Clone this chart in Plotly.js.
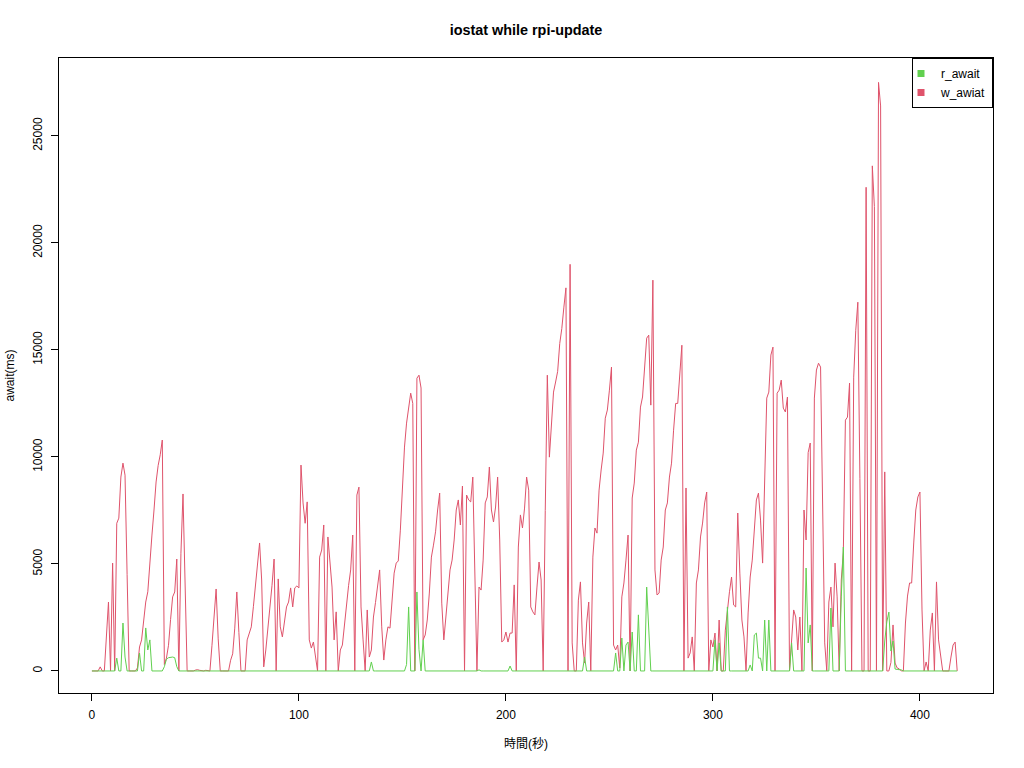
<!DOCTYPE html>
<html><head><meta charset="utf-8">
<script src="https://cdn.plot.ly/plotly-3.0.1.min.js"></script>
<style>body{margin:0;background:#fff}#chart{width:1024px;height:768px}</style>
</head><body><div id="chart"></div>
<script>
const seriesNames = ['r_await', 'w_awiat'];

const rAwait = [
0,0,0,0,0,0,0,0,0,0,0,0,600,0,0,2240,650,0,0,0,
0,0,0,840,0,0,2010,980,1450,0,0,0,0,0,0,200,550,620,650,650,
620,200,0,0,0,0,0,0,0,0,0,0,0,0,0,0,0,0,0,0,
0,0,0,0,0,0,0,0,0,0,0,0,0,0,0,0,0,0,0,0,
0,0,0,0,0,0,0,0,0,0,0,0,0,0,0,0,0,0,0,0,
0,0,0,0,0,0,0,0,0,0,0,0,0,0,0,0,0,0,0,0,
0,0,0,0,0,0,0,0,0,0,0,0,0,0,0,420,0,0,0,0,
0,0,0,0,0,0,0,0,0,0,0,0,300,2990,0,0,0,3690,1000,0,
1450,0,0,0,0,0,0,0,0,0,0,0,0,0,0,0,0,0,0,0,
0,0,0,0,0,0,0,50,0,0,0,0,0,0,0,0,0,0,0,0,
0,0,230,0,0,0,0,0,0,0,0,0,0,0,0,0,0,0,0,0,
0,0,0,0,0,0,0,0,0,0,0,0,0,0,0,0,0,0,650,0,
0,0,0,0,0,0,0,0,0,0,0,0,0,840,0,0,1540,0,1210,1350,
0,1820,0,0,2620,0,0,0,3920,1680,0,0,0,0,0,0,0,0,0,0,
0,0,0,0,0,0,0,0,0,0,0,0,0,0,0,0,0,0,0,0,
0,1450,0,1310,0,0,0,2990,0,0,0,0,0,0,0,0,0,0,280,0,
1680,1770,600,600,0,2380,0,2380,0,0,0,0,0,0,0,0,0,0,1310,0,
0,0,0,0,0,4810,1310,2150,0,0,0,0,0,0,0,0,0,2940,0,0,
0,0,3460,5790,0,0,0,0,0,0,0,0,0,0,0,0,0,0,0,0,
0,0,0,1400,2290,2750,930,1400,90,70,60,50,0,0,0,0,0,0,0,0,
0,0,0,0,0,0,0,0,0,0,0,0,0,0,0,0,0,0,0
];

const wAwiat = [
0,0,0,0,190,0,0,1600,3220,0,5040,0,6900,7140,9060,9710,9150,4500,0,0,
0,0,140,1120,1450,2300,3220,3700,5230,6350,7520,8830,9600,10100,10790,300,600,1200,2400,3460,
3690,5230,0,5500,8270,4200,0,0,0,0,40,60,30,0,0,30,0,0,1200,2500,
3830,1500,0,0,0,0,0,500,800,2000,3690,1800,0,0,0,1450,1800,2060,3000,3920,
5000,5980,4250,190,980,1900,2760,4000,5230,0,4300,2060,1590,2300,2990,3220,3880,2990,3880,3970,
3880,9620,7850,6900,7900,1450,1070,1350,600,0,5320,5650,6820,0,6260,5000,3920,1450,2760,0,
980,1210,2200,3170,4000,4720,6350,0,8220,8590,2990,1450,0,2850,650,980,2520,3200,3880,4720,
2060,510,1450,2060,2000,3310,4570,5040,5140,6580,8590,10460,11580,12190,12980,12500,0,13680,13820,13220,
1450,1680,2380,3640,5320,5880,6500,7520,8310,3170,1450,2520,3800,4720,5180,6120,7520,7990,6820,8640,
0,8220,7990,7900,9060,4390,0,3920,3780,5180,7850,8130,9530,7520,6960,7660,9060,6120,1350,1450,
1820,1350,1770,1770,4020,0,5790,7290,6680,7610,9060,8450,2990,2760,2620,3920,5090,4250,0,7500,
13820,9990,11580,13030,13500,14000,15300,16000,17000,17900,0,19000,1310,0,0,3310,4160,1310,370,2240,
3220,0,5320,6680,6440,8450,9390,10180,11810,12190,13120,14200,1210,980,1210,140,3460,4110,5180,6350,
0,8080,8780,10320,10690,12330,12800,14430,15550,15690,12420,18260,4720,3550,3640,5180,5790,7520,7850,9060,
9710,11250,12500,12500,14060,15220,0,8550,600,840,1590,0,4110,4720,6260,6910,7850,8360,0,1450,
1120,1770,0,2380,0,0,1910,2900,3700,4390,3080,2990,7380,4570,2380,1590,0,2710,4390,5180,
6580,7990,8310,7050,5040,8920,12750,13030,14760,15130,0,12980,13120,13590,12280,12100,12800,0,1210,2850,
2520,980,2520,0,7520,6120,10200,10650,0,12750,14060,14380,14200,7380,1310,0,3220,3920,2060,5040,
3460,0,4250,5560,11720,11860,13450,0,13730,15920,17230,9000,0,0,22600,0,0,23600,21700,0,
27500,26400,0,9300,0,0,400,2150,370,140,100,0,0,2240,3500,4110,4110,5980,7520,8130,
8360,2850,0,420,0,1910,2710,0,4160,1450,600,0,0,0,0,650,1210,1350,0
];

const xTicks = [0, 100, 200, 300, 400];
const yTicks = [0, 5000, 10000, 15000, 20000, 25000];
const titleText = 'iostat while rpi-update';
const xTitle = '時間(秒)';
const yTitle = 'await(ms)';

const RED = '#DF536B', GREEN = '#61D04F';
const FONT = 'Liberation Sans, Arial, Noto Sans CJK JP, sans-serif';

const traces = [
  {y: wAwiat, type: 'scatter', mode: 'lines', line: {color: RED, width: 1}, showlegend: false, hoverinfo: 'skip'},
  {y: rAwait, type: 'scatter', mode: 'lines', line: {color: GREEN, width: 1}, showlegend: false, hoverinfo: 'skip'},
  {x: [null], y: [null], type: 'scatter', mode: 'markers', name: seriesNames[0], marker: {symbol: 'square', size: 7, color: GREEN}},
  {x: [null], y: [null], type: 'scatter', mode: 'markers', name: seriesNames[1], marker: {symbol: 'square', size: 7, color: RED}}
];

const axisCommon = {
  showgrid: false, zeroline: false,
  showline: true, mirror: true, linecolor: 'black', linewidth: 1,
  ticks: 'outside', ticklen: 7, tickwidth: 1, tickcolor: 'black',
  tickfont: {size: 12, color: 'black'}, automargin: false
};

const layout = {
  width: 1024, height: 768,
  margin: {l: 59, r: 31, t: 58, b: 75},
  paper_bgcolor: 'white', plot_bgcolor: 'white',
  font: {family: FONT, size: 12, color: 'black'},
  title: {text: '<b>' + titleText + '</b>', font: {size: 14.4, color: 'black'},
          xref: 'container', x: 526 / 1024, xanchor: 'center',
          yref: 'container', y: 1 - 30 / 768, yanchor: 'middle'},
  xaxis: Object.assign({}, axisCommon, {
    range: [-15.9, 435.3], tickvals: xTicks, ticktext: xTicks.map(String),
    ticklabelstandoff: 4,
    title: {text: xTitle, font: {size: 12}, standoff: 18}
  }),
  yaxis: Object.assign({}, axisCommon, {
    range: [-1030, 28640], tickvals: yTicks, ticktext: yTicks.map(String),
    tickangle: -90, ticklabelstandoff: 4,
    title: {text: yTitle, font: {size: 12}, standoff: 14}
  }),
  legend: {x: 1, xanchor: 'right', y: 1, yanchor: 'top', bgcolor: 'white',
           bordercolor: 'black', borderwidth: 1, font: {size: 12}, itemwidth: 30,
           indentation: -12, tracegroupgap: 0}
};

Plotly.newPlot('chart', traces, layout, {staticPlot: true, displayModeBar: false});
</script>
</body></html>
